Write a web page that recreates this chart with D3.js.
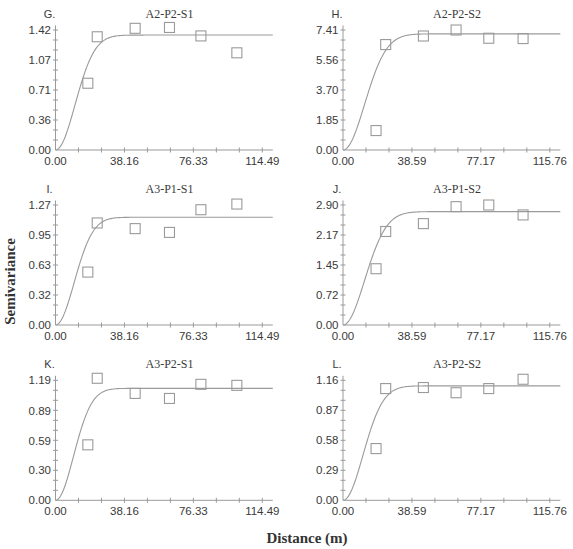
<!DOCTYPE html>
<html>
<head>
<meta charset="utf-8">
<script src="https://cdn.jsdelivr.net/npm/d3@7"></script>
<style>
  body { margin: 0; background: #fff; }
  svg { display: block; }
</style>
</head>
<body>
<div id="chart"></div>
<script>
// panel labels and titles (row by row, left then right)
const panelLetters = ["G.", "H.", "I.", "J.", "K.", "L."];
const panelTitles = ["A2-P2-S1", "A2-P2-S2", "A3-P1-S1", "A3-P1-S2", "A3-P2-S1", "A3-P2-S2"];

// lag distances (m), S1 panels and S2 panels
const lagsS1 = [17.9, 23.1, 44.1, 63.1, 80.5, 100.4];
const lagsS2 = [18.5, 23.9, 45.0, 63.3, 81.6, 100.8];

// experimental semivariance per panel
const valuesG = [0.79, 1.34, 1.44, 1.45, 1.35, 1.15];
const valuesH = [1.20, 6.51, 7.04, 7.41, 6.90, 6.88];
const valuesI = [0.56, 1.08, 1.02, 0.98, 1.22, 1.28];
const valuesJ = [1.36, 2.26, 2.45, 2.86, 2.90, 2.66];
const valuesK = [0.55, 1.21, 1.06, 1.01, 1.15, 1.14];
const valuesL = [0.50, 1.08, 1.09, 1.04, 1.08, 1.17];

// gaussian model parameters (nugget, sill, range parameter)
const nuggets = [0, 0, 0, 0, 0, 0];
const sills = [1.36, 7.17, 1.14, 2.74, 1.11, 1.106];
const ranges = [15.3, 17.1, 14.6, 17.1, 14.1, 15.8];

// tick labels
const yTicksG = [0, 0.36, 0.71, 1.07, 1.42];
const yTicksH = [0, 1.85, 3.70, 5.56, 7.41];
const yTicksI = [0, 0.32, 0.63, 0.95, 1.27];
const yTicksJ = [0, 0.72, 1.45, 2.17, 2.90];
const yTicksK = [0, 0.30, 0.59, 0.89, 1.19];
const yTicksL = [0, 0.29, 0.58, 0.87, 1.16];
const xTicksS1 = [0, 38.16, 76.33, 114.49];
const xTicksS2 = [0, 38.59, 77.17, 115.76];

const allValues = [valuesG, valuesH, valuesI, valuesJ, valuesK, valuesL];
const allYTicks = [yTicksG, yTicksH, yTicksI, yTicksJ, yTicksK, yTicksL];

const width = 573, height = 549;
const colX = [55.5, 343];
const rowBase = [150, 325, 500.3];
const labelSpanX = 206.8, axisLenX = 217.3;
const labelSpanY = 120, axisLenY = 124.5;
const grey = "#9a9a9a";

const svg = d3.select("#chart").append("svg")
  .attr("width", width)
  .attr("height", height);

panelTitles.forEach((title, i) => {
  const col = i % 2, row = Math.floor(i / 2);
  const x0 = colX[col], y0 = rowBase[row];
  const xTicks = col === 0 ? xTicksS1 : xTicksS2;
  const lags = col === 0 ? lagsS1 : lagsS2;
  const yTicks = allYTicks[i];
  const xLast = xTicks[xTicks.length - 1];
  const yTop = yTicks[yTicks.length - 1];

  const x = d3.scaleLinear().domain([0, xLast]).range([x0, x0 + labelSpanX]);
  const y = d3.scaleLinear().domain([0, yTop]).range([y0, y0 - labelSpanY]);

  const g = svg.append("g");

  // axis lines
  g.append("line")
    .attr("x1", x0).attr("x2", x0 + axisLenX)
    .attr("y1", y0).attr("y2", y0)
    .attr("stroke", grey).attr("stroke-width", 1);
  g.append("line")
    .attr("x1", x0).attr("x2", x0)
    .attr("y1", y0).attr("y2", y0 - axisLenY)
    .attr("stroke", grey).attr("stroke-width", 1);

  // x ticks: 3 per labelled interval
  const xMinor = d3.range(1, 10).map(k => xLast * k / 9);
  g.selectAll("line.xt").data(xMinor).enter().append("line")
    .attr("x1", d => x(d)).attr("x2", d => x(d))
    .attr("y1", y0 - 2.5).attr("y2", y0 + 2.5)
    .attr("stroke", grey);

  // y ticks: 3 per labelled interval
  const yMinor = d3.range(1, 13).map(k => yTop * k / 12);
  g.selectAll("line.yt").data(yMinor).enter().append("line")
    .attr("x1", x0 - 2.5).attr("x2", x0 + 2.5)
    .attr("y1", d => y(d)).attr("y2", d => y(d))
    .attr("stroke", grey);

  // tick labels
  g.selectAll("text.xl").data(xTicks).enter().append("text")
    .attr("x", d => x(d))
    .attr("y", y0 + 14.5)
    .attr("text-anchor", "middle")
    .attr("font-family", "Liberation Sans, Arial, sans-serif")
    .attr("font-size", 11.5)
    .attr("fill", "#3a3a3a")
    .text(d => d.toFixed(2));

  g.selectAll("text.yl").data(yTicks).enter().append("text")
    .attr("x", x0 - 4.5)
    .attr("y", d => y(d) + 4)
    .attr("text-anchor", "end")
    .attr("font-family", "Liberation Sans, Arial, sans-serif")
    .attr("font-size", 11.5)
    .attr("fill", "#3a3a3a")
    .text(d => d.toFixed(2));

  // panel letter and title
  g.append("text")
    .attr("x", x0 - 6)
    .attr("y", y0 - 132.5)
    .attr("text-anchor", "middle")
    .attr("font-family", "Liberation Sans, Arial, sans-serif")
    .attr("font-size", 11)
    .attr("fill", "#3a3a3a")
    .text(panelLetters[i]);

  g.append("text")
    .attr("x", x0 + 114)
    .attr("y", y0 - 132.5)
    .attr("text-anchor", "middle")
    .attr("font-family", "Liberation Serif, Times New Roman, serif")
    .attr("font-size", 12)
    .attr("fill", "#3a3a3a")
    .text(title);

  // fitted gaussian model
  const c0 = nuggets[i], c = sills[i] - nuggets[i], a = ranges[i];
  const xEnd = x.invert(x0 + axisLenX);
  const hs = d3.range(0, xEnd, xEnd / 200).concat([xEnd]);
  const line = d3.line()
    .x(h => x(h))
    .y(h => y(c0 + c * (1 - Math.exp(-(h * h) / (a * a)))));
  g.append("path")
    .attr("d", line(hs))
    .attr("fill", "none")
    .attr("stroke", grey)
    .attr("stroke-width", 1.1);

  // experimental points as open squares
  const s = 10;
  g.selectAll("rect.pt").data(allValues[i]).enter().append("rect")
    .attr("x", (d, j) => x(lags[j]) - s / 2)
    .attr("y", d => y(d) - s / 2)
    .attr("width", s).attr("height", s)
    .attr("fill", "none")
    .attr("stroke", grey)
    .attr("stroke-width", 1.1);
});

// shared axis titles
svg.append("text")
  .attr("transform", `translate(15,281.5) rotate(-90)`)
  .attr("text-anchor", "middle")
  .attr("font-family", "Liberation Serif, Times New Roman, serif")
  .attr("font-weight", "bold")
  .attr("font-size", 15)
  .attr("fill", "#333")
  .text("Semivariance");

svg.append("text")
  .attr("x", 307)
  .attr("y", 543)
  .attr("text-anchor", "middle")
  .attr("font-family", "Liberation Serif, Times New Roman, serif")
  .attr("font-weight", "bold")
  .attr("font-size", 15)
  .attr("fill", "#333")
  .text("Distance (m)");
</script>
</body>
</html>
